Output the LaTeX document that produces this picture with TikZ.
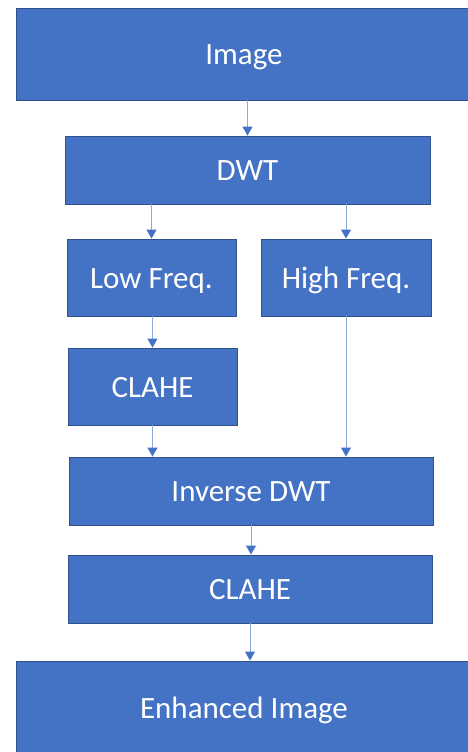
\documentclass[tikz,border=0pt]{standalone}
\usepackage{fontspec}
\setmainfont{Carlito}
\usetikzlibrary{arrows.meta}
\definecolor{boxfill}{HTML}{4472C4}
\definecolor{boxline}{HTML}{2F528F}
\definecolor{arrline}{HTML}{8EA9DB}
\tikzset{
  blk/.style={draw=boxline, line width=0.9pt, fill=boxfill, text=white, inner sep=0pt,
    font=\fontsize{31}{36}\selectfont, text height=21pt, text depth=0pt, anchor=center},
  arr/.style={draw=arrline, line width=1pt, -{Triangle[length=9pt,width=10pt,color=boxfill]}}
}
\begin{document}
\begin{tikzpicture}[x=1pt,y=-1pt]
\useasboundingbox (0,0) rectangle (468,752);
\node[blk, minimum width=456pt, minimum height=92pt] (img) at (244,54) {Image};
\node[blk, minimum width=365pt, minimum height=68pt] (dwt) at (247.5,170) {DWT};
\node[blk, minimum width=169pt, minimum height=77pt] (low) at (151.5,277.5) {Low Freq.};
\node[blk, minimum width=170pt, minimum height=77pt] (high) at (346,277.5) {High Freq.};
\node[blk, minimum width=169pt, minimum height=77pt] (cla) at (152.5,386.5) {CLAHE};
\node[blk, minimum width=364pt, minimum height=68pt] (inv) at (251,491) {Inverse DWT};
\node[blk, minimum width=364pt, minimum height=68pt] (clb) at (250,589) {CLAHE};
\node[blk, minimum width=456pt, minimum height=94pt] (enh) at (244,708) {Enhanced Image};
\draw[arr] (dwt.north |- img.south) -- (dwt.north);
\draw[arr] (low.north |- dwt.south) -- (low.north);
\draw[arr] (high.north |- dwt.south) -- (high.north);
\draw[arr] (low.south -| cla.north) -- (cla.north);
\draw[arr] (cla.south) -- (cla.south |- inv.north);
\draw[arr] (high.south) -- (high.south |- inv.north);
\draw[arr] (inv.south) -- (inv.south |- clb.north);
\draw[arr] (clb.south) -- (clb.south |- enh.north);
\end{tikzpicture}
\end{document}
